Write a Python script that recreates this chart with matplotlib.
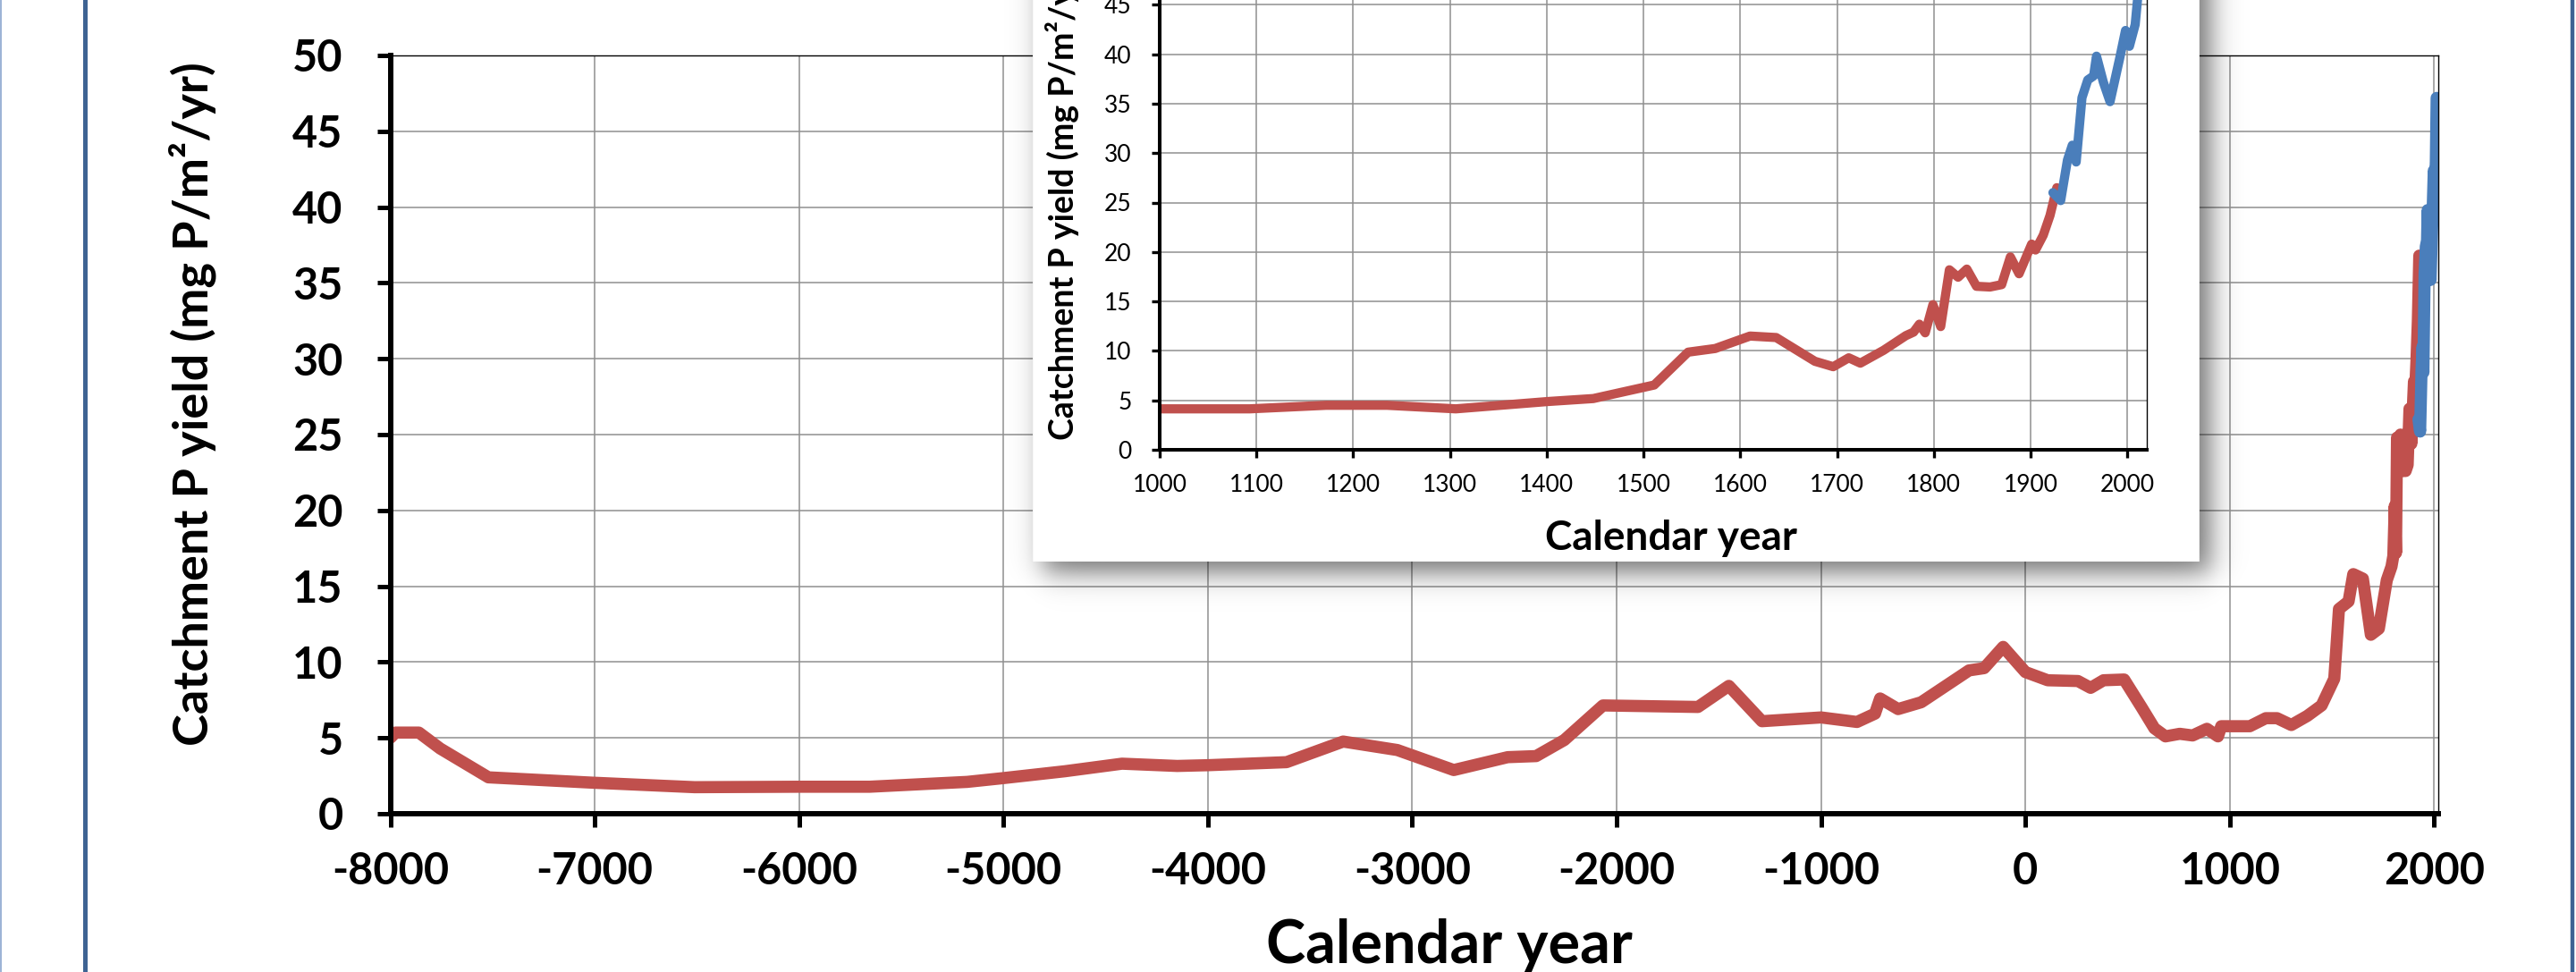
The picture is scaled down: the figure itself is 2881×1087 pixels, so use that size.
import numpy as np
import matplotlib
matplotlib.use("Agg")
import matplotlib.pyplot as plt
from matplotlib.lines import Line2D

# figure size in pixels (dpi 100)
W, H = 2881, 1087
DPI = 100

RED = "#C0504D"
BLUE = "#4A7EBB"
GRID = "#8f8f8f"

# Main panel: catchment P yield over the Holocene (red series)
main_year = [-8000, -7975, -7860, -7756, -7520, -7014, -6511, -6000, -5655, -5177,
             -5000, -4700, -4420, -4150, -4000, -3615, -3338, -3073, -2797, -2533,
             -2394, -2256, -2067, -1602, -1451, -1289, -1000, -824, -736, -711,
             -623, -510, -276, -202, -109, 0, 109, 257, 319, 382,
             483, 569, 631, 685, 755, 818, 888, 942, 958, 1098,
             1176, 1231, 1301, 1379, 1449, 1511, 1534, 1581, 1604, 1651,
             1690, 1729, 1768, 1791, 1800, 1807, 1813, 1818, 1827, 1835,
             1845, 1860, 1870, 1879, 1888, 1901, 1906, 1913, 1920, 1927]
main_yield = [5.0, 5.35, 5.35, 4.3, 2.4, 2.05, 1.75, 1.78, 1.78, 2.1,
              2.35, 2.8, 3.3, 3.15, 3.2, 3.4, 4.76, 4.2, 2.88, 3.73,
              3.8, 4.86, 7.14, 7.04, 8.43, 6.1, 6.35, 6.05, 6.6, 7.6,
              6.9, 7.35, 9.45, 9.6, 11.0, 9.34, 8.8, 8.75, 8.3, 8.8,
              8.85, 7.0, 5.63, 5.1, 5.27, 5.16, 5.6, 5.1, 5.77, 5.77,
              6.3, 6.3, 5.85, 6.45, 7.14, 8.9, 13.5, 14.0, 15.8, 15.5,
              11.8, 12.2, 15.4, 16.3, 17.0, 20.3, 17.2, 24.8, 24.0, 25.0,
              22.6, 22.6, 23.0, 26.7, 24.4, 28.5, 27.7, 29.8, 32.5, 36.8]

# Inset: last millennium (red series)
inset_year = [1000, 1093, 1172, 1235, 1306, 1401, 1448, 1511, 1546, 1574,
              1610, 1637, 1677, 1696, 1712, 1724, 1748, 1771, 1779, 1785,
              1791, 1799, 1807, 1816, 1825, 1834, 1844, 1858, 1870, 1879,
              1888, 1901, 1905, 1913, 1920, 1927]
inset_yield = [4.14, 4.14, 4.5, 4.5, 4.14, 4.88, 5.18, 6.55, 9.87, 10.24,
               11.5, 11.35, 8.95, 8.4, 9.3, 8.76, 10.06, 11.54, 11.9, 12.7,
               11.83, 14.68, 12.46, 18.2, 17.45, 18.27, 16.53, 16.46, 16.7, 19.5,
               17.8, 20.8, 20.2, 21.7, 23.7, 26.5]

# Modern record (blue), drawn in both panels
modern_year = [1923, 1931, 1938, 1943, 1947, 1953, 1959, 1965, 1968, 1975,
               1982, 1992, 1998, 2002, 2008, 2012]
modern_yield = [26.0, 25.2, 29.3, 30.8, 29.1, 35.6, 37.4, 37.8, 39.8, 37.2,
                35.2, 39.6, 42.4, 40.8, 43.0, 47.2]

plt.rcParams["font.family"] = ["Lato", "DejaVu Sans"]
plt.rcParams["axes.unicode_minus"] = False


def fx(px):
    return px / W


def fy(py):
    # py counted from the top of the picture
    return 1 - py / H


def rect(left, top, right, bottom):
    return [fx(left), fy(bottom), (right - left) / W, (bottom - top) / H]


def style_axes(a, spine_w, tick_len, tick_w, fs, xpad, ypad, weight):
    for s in ["left", "bottom"]:
        a.spines[s].set_linewidth(spine_w)
    for s in ["top", "right"]:
        a.spines[s].set_linewidth(1.0)
    a.tick_params(direction="out", length=tick_len, width=tick_w,
                  labelsize=fs, top=False, right=False)
    a.tick_params(axis="x", pad=xpad)
    a.tick_params(axis="y", pad=ypad)
    for lab in a.get_xticklabels() + a.get_yticklabels():
        lab.set_fontweight(weight)
    a.grid(True, color=GRID, lw=1.1)
    a.set_axisbelow(True)


fig = plt.figure(figsize=(W / DPI, H / DPI), dpi=DPI)
fig.patch.set_facecolor("white")

# ---- main chart
ax = fig.add_axes(rect(436.5, 62, 2727, 910), zorder=0)
ax.plot(main_year, main_yield, color=RED, lw=9.8, solid_joinstyle="round",
        solid_capstyle="round")
ax.plot(modern_year, modern_yield, color=BLUE, lw=9.8, solid_joinstyle="round",
        solid_capstyle="round")
ax.set_xlim(-8000, 2020)
ax.set_ylim(0, 50)
ax.set_xticks(range(-8000, 2001, 1000))
ax.set_yticks(range(0, 51, 5))
style_axes(ax, 4.3, 11, 3.6, 35, 19, 27, "bold")
ax.set_ylabel("Catchment P yield (mg P/m²/yr)", fontsize=39, fontweight="bold")
ax.yaxis.set_label_coords(-0.085, 0.54)
ax.set_xlabel("Calendar year", fontsize=48, fontweight="bold")
ax.xaxis.set_label_coords(0.517, -0.138)

# ---- inset box with soft shadow
sx0, sx1, sy0, sy1 = 1100, 2560, 0, 720
box_l, box_r, box_t, box_b = 1155, 2459, -400, 628
xs = np.arange(sx0, sx1) + 0.5
ys = np.arange(sy0, sy1) + 0.5


def soft(v, lo, hi, s):
    return 1 / (1 + np.exp(-(v - lo) / s)) / (1 + np.exp(-(hi - v) / s))


shade = 0.55 * np.outer(soft(ys, box_t + 12, box_b + 12, 9),
                        soft(xs, box_l + 12, box_r + 12, 9))
img = np.zeros((len(ys), len(xs), 4))
img[..., 3] = shade
inside = np.outer((ys >= box_t) & (ys < box_b), (xs >= box_l) & (xs < box_r))
img[inside] = [1, 1, 1, 1]
sh = fig.add_axes(rect(sx0, sy0, sx1, sy1), zorder=1)
sh.imshow(img, extent=(0, 1, 0, 1), aspect="auto", interpolation="bilinear")
sh.set_axis_off()

# ---- inset chart (its top runs past the picture edge)
ins = fig.add_axes(rect(1297, -50, 2401, 503), zorder=2)
ins.set_facecolor("white")
ins.plot(inset_year, inset_yield, color=RED, lw=7.4, solid_joinstyle="round",
         solid_capstyle="round")
ins.plot(modern_year, modern_yield, color=BLUE, lw=7.4, solid_joinstyle="round",
         solid_capstyle="round")
ins.set_xlim(1000, 2020)
ins.set_ylim(0, 50)
ins.set_xticks(range(1000, 2001, 100))
ins.set_yticks(range(0, 51, 5))
style_axes(ins, 2.9, 6.5, 2.4, 19, 13, 16, "normal")
ins.set_ylabel("Catchment P yield (mg P/m²/yr)", fontsize=27, fontweight="bold")
ins.yaxis.set_label_coords(-0.0815, 0.5)
ins.set_xlabel("Calendar year", fontsize=33, fontweight="bold")
ins.xaxis.set_label_coords(0.518, -0.141)

# ---- frame lines at the left and right edges
fig.add_artist(Line2D([fx(1)] * 2, [0, 1], color="#9DB4D6", lw=1.5, zorder=5))
fig.add_artist(Line2D([fx(94.5)] * 2, [0, 1], color="#3E6393", lw=3.6, zorder=5))
fig.add_artist(Line2D([fx(2877)] * 2, [0, 1], color="#3E6393", lw=3.2, zorder=5))

fig.savefig("out.png", dpi=DPI)
